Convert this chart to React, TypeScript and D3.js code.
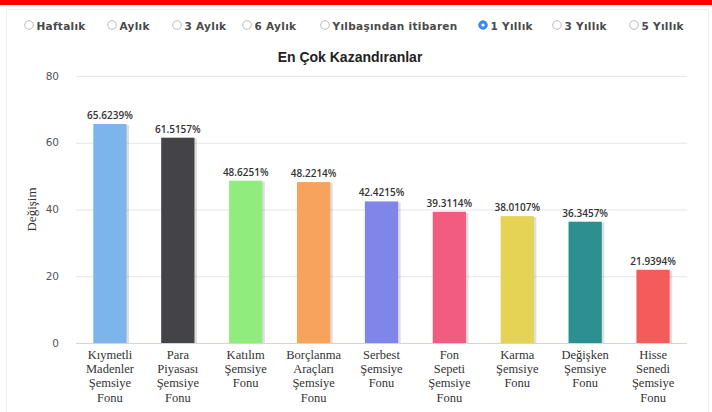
import React, { useEffect, useRef } from 'react'
import * as d3 from 'd3'

// periods shown above the chart
const periods = ['Haftalık', 'Aylık', '3 Aylık', '6 Aylık', 'Yılbaşından itibaren', '1 Yıllık', '3 Yıllık', '5 Yıllık']
const selectedPeriod = '1 Yıllık'

const chartTitle = 'En Çok Kazandıranlar'
const yTitle = 'Değişim'

const categories = [
  'Kıymetli Madenler Şemsiye Fonu',
  'Para Piyasası Şemsiye Fonu',
  'Katılım Şemsiye Fonu',
  'Borçlanma Araçları Şemsiye Fonu',
  'Serbest Şemsiye Fonu',
  'Fon Sepeti Şemsiye Fonu',
  'Karma Şemsiye Fonu',
  'Değişken Şemsiye Fonu',
  'Hisse Senedi Şemsiye Fonu',
]
// label lines under each bar
const categoryLines = [
  ['Kıymetli', 'Madenler', 'Şemsiye', 'Fonu'],
  ['Para', 'Piyasası', 'Şemsiye', 'Fonu'],
  ['Katılım', 'Şemsiye', 'Fonu'],
  ['Borçlanma', 'Araçları', 'Şemsiye', 'Fonu'],
  ['Serbest', 'Şemsiye', 'Fonu'],
  ['Fon', 'Sepeti', 'Şemsiye', 'Fonu'],
  ['Karma', 'Şemsiye', 'Fonu'],
  ['Değişken', 'Şemsiye', 'Fonu'],
  ['Hisse', 'Senedi', 'Şemsiye', 'Fonu'],
]
const values = [65.6239, 61.5157, 48.6251, 48.2214, 42.4215, 39.3114, 38.0107, 36.3457, 21.9394]
const yTicks = [0, 20, 40, 60, 80]

const colors = ['#7cb5ec', '#434348', '#90ed7d', '#f7a35c', '#8085e9', '#f15c80', '#e4d354', '#2b908f', '#f45b5b']

const W = 712
const H = 412
// where each radio circle sits in the row (layout only)
const radioX = [29, 112, 177, 247, 325, 483, 557, 634]

export default function App() {
  const svgRef = useRef<SVGSVGElement>(null)

  useEffect(() => {
    if (!svgRef.current) return
    const svg = d3.select(svgRef.current)
    svg.selectAll('*').remove()

    svg.append('rect').attr('width', W).attr('height', H).attr('fill', '#fff')
    // faint page frame
    svg.append('rect')
      .attr('x', 6.5).attr('y', 9.5).attr('width', W - 10).attr('height', H)
      .attr('fill', 'none').attr('stroke', '#eeeeee')
    // red strip on top
    svg.append('rect').attr('x', 0).attr('y', 0).attr('width', W).attr('height', 5).attr('fill', '#ff0000')

    // radio row
    const radioY = 25
    periods.forEach((p, i) => {
      const rx = radioX[i]
      const sel = p === selectedPeriod
      const g = svg.append('g')
      g.append('circle')
        .attr('cx', rx).attr('cy', radioY).attr('r', 4.3)
        .attr('fill', sel ? '#3a8ef2' : '#fff')
        .attr('stroke', sel ? '#2f7fe0' : '#a9a9a9').attr('stroke-width', 0.8)
      if (sel) g.append('circle').attr('cx', rx).attr('cy', radioY).attr('r', 1.6).attr('fill', '#fff')
      g.append('text')
        .attr('x', rx + 7.5).attr('y', radioY + 4.5)
        .attr('font-family', 'DejaVu Sans, sans-serif')
        .attr('font-size', 10.5).attr('font-weight', 'bold')
        .attr('letter-spacing', 0.3)
        .attr('fill', '#4a4a4a')
        .text(p)
    })

    // title
    svg.append('text')
      .attr('x', 350).attr('y', 62)
      .attr('text-anchor', 'middle')
      .attr('font-family', 'Liberation Sans, Arial, sans-serif')
      .attr('font-size', 14).attr('font-weight', 'bold')
      .attr('fill', '#222')
      .text(chartTitle)

    const left = 76, right = 687, top = 76, bottom = 343

    const x = d3.scaleBand<string>().domain(categories).range([left, right]).paddingInner(0.51).paddingOuter(0.255)
    const y = d3.scaleLinear().domain([0, 80]).range([bottom, top])

    // grid
    svg.append('g')
      .selectAll('line')
      .data(yTicks.filter(t => t !== 0))
      .join('line')
      .attr('x1', left).attr('x2', right)
      .attr('y1', d => y(d) + 0.5).attr('y2', d => y(d) + 0.5)
      .attr('stroke', '#e6e6e6')

    svg.append('g')
      .selectAll('text')
      .data(yTicks)
      .join('text')
      .attr('x', 59).attr('y', d => y(d) + 3.5)
      .attr('text-anchor', 'end')
      .attr('font-family', 'DejaVu Sans, sans-serif')
      .attr('font-size', 10.5)
      .attr('fill', '#555')
      .text(d => d)

    svg.append('text')
      .attr('transform', `translate(36,${(top + bottom) / 2}) rotate(-90)`)
      .attr('text-anchor', 'middle')
      .attr('font-family', 'Liberation Serif, Times New Roman, serif')
      .attr('font-size', 13)
      .attr('fill', '#333')
      .text(yTitle)

    const bars = svg.append('g')
    // shadows
    bars.selectAll('rect.shadow')
      .data(values)
      .join('rect')
      .attr('class', 'shadow')
      .attr('x', (d, i) => (x(categories[i]) as number) + 2.5)
      .attr('y', d => y(d) + 1)
      .attr('width', x.bandwidth())
      .attr('height', d => bottom - y(d) - 1)
      .attr('fill', '#000')
      .attr('opacity', 0.13)

    bars.selectAll('rect.bar')
      .data(values)
      .join('rect')
      .attr('class', 'bar')
      .attr('x', (d, i) => x(categories[i]) as number)
      .attr('y', d => y(d))
      .attr('width', x.bandwidth())
      .attr('height', d => bottom - y(d))
      .attr('fill', (d, i) => colors[i])

    // baseline
    svg.append('line')
      .attr('x1', left).attr('x2', right)
      .attr('y1', bottom + 0.5).attr('y2', bottom + 0.5)
      .attr('stroke', '#ccd6eb')

    // value labels
    svg.append('g')
      .selectAll('text')
      .data(values)
      .join('text')
      .attr('x', (d, i) => (x(categories[i]) as number) + x.bandwidth() / 2)
      .attr('y', d => y(d) - 5)
      .attr('text-anchor', 'middle')
      .attr('font-family', 'Open Sans, sans-serif')
      .attr('font-size', 10).attr('font-weight', 600)
      .attr('fill', '#333')
      .text(d => d.toFixed(4) + '%')

    // category labels
    const cl = svg.append('g')
    categoryLines.forEach((lines, i) => {
      const cx = (x(categories[i]) as number) + x.bandwidth() / 2
      const t = cl.append('text')
        .attr('text-anchor', 'middle')
        .attr('font-family', 'Liberation Serif, Times New Roman, serif')
        .attr('font-size', 12.5)
        .attr('fill', '#333')
      lines.forEach((ln, j) => {
        t.append('tspan').attr('x', cx).attr('y', 359 + j * 14.2).text(ln)
      })
    })
  }, [])

  return (
    <svg
      ref={svgRef}
      width={W}
      height={H}
      style={{ position: 'absolute', left: 0, top: 0 }}
    />
  )
}
